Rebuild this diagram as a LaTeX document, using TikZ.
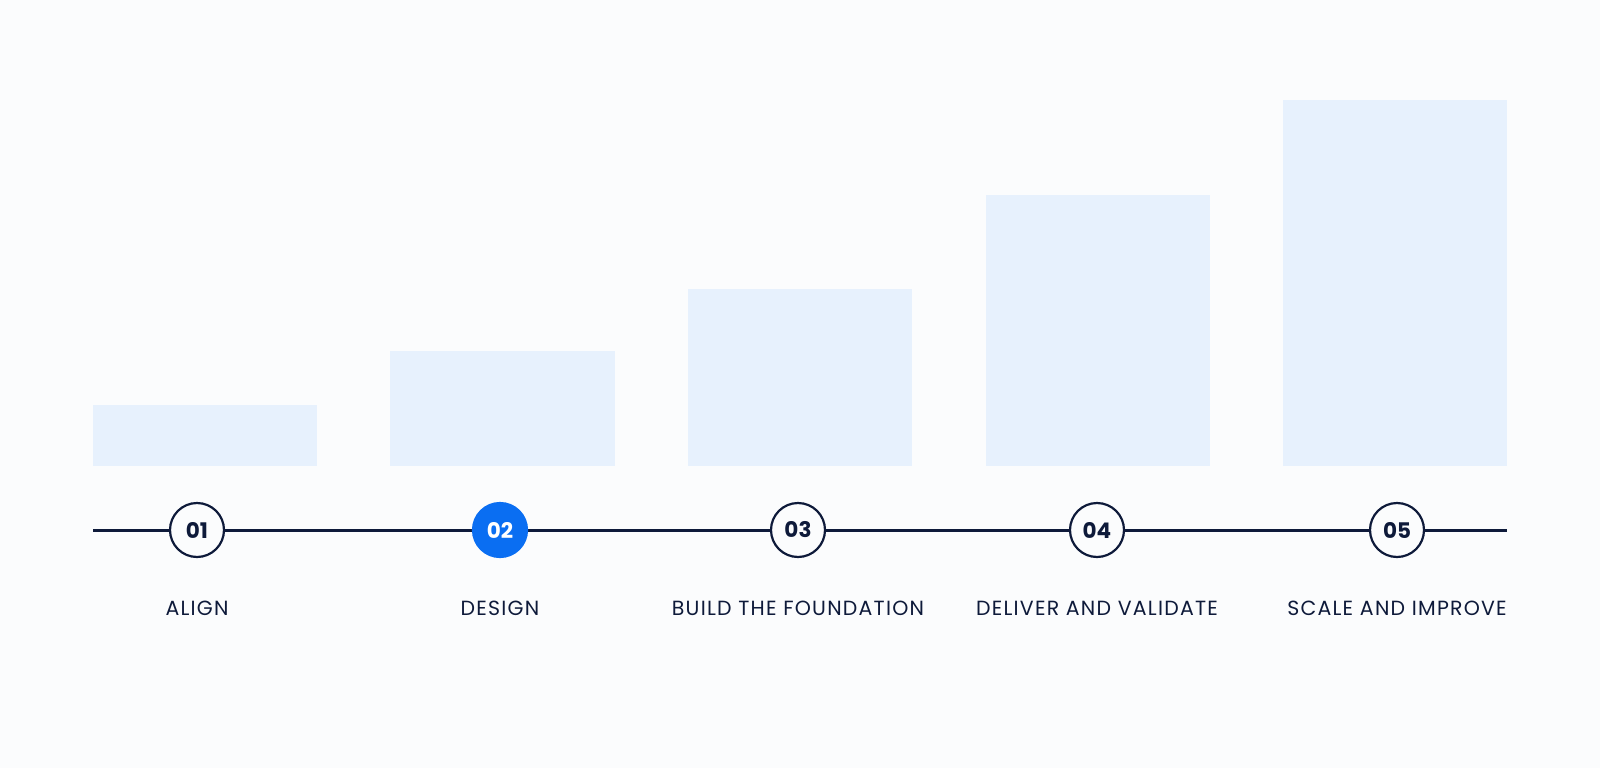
\documentclass[tikz,border=0pt]{standalone}
\usepackage{fontspec}
\setmainfont{Poppins}
\newfontfamily\labelfont[LetterSpace=6]{Poppins}
\definecolor{bg}{HTML}{FBFCFD}
\definecolor{barc}{HTML}{E7F1FD}
\definecolor{navy}{HTML}{0E1A3A}
\definecolor{accent}{HTML}{0A6EF2}
\tikzset{
  bar/.style={fill=barc, draw=none},
  stepcirc/.style={circle, draw=navy, line width=2.2pt, fill=bg, minimum size=54pt, inner sep=0pt, font=\fontsize{21.5}{21.5}\selectfont\bfseries, text=navy},
  stepactive/.style={stepcirc, draw=accent, fill=accent, text=white},
  steplabel/.style={font=\labelfont\fontsize{20.5}{20.5}\selectfont, text=navy, anchor=base},
  axisline/.style={draw=navy, line width=3pt}
}
\begin{document}
\begin{tikzpicture}[x=1pt,y=-1pt]
\fill[bg] (0,0) rectangle (1600,768);
\useasboundingbox (0,0) rectangle (1600,768);
% bars
\fill[bar] (93,405) rectangle (317,466);
\fill[bar] (390,351) rectangle (615,466);
\fill[bar] (688,289) rectangle (912,466);
\fill[bar] (986,195) rectangle (1210,466);
\fill[bar] (1283,100) rectangle (1507,466);
% axis
\coordinate (L) at (93,530);
\coordinate (R) at (1507,530);
\draw[axisline] (L) -- (R);
% circles
\node[stepcirc] (c1) at (197,530) {01};
\node[stepactive] (c2) at (500,530) {02};
\node[stepcirc] (c3) at (798,530) {03};
\node[stepcirc] (c4) at (1097,530) {04};
\node[stepcirc] (c5) at (1397,530) {05};
% labels
\node[steplabel] (l1) at (197,615) {ALIGN};
\node[steplabel] (l2) at (500,615) {DESIGN};
\node[steplabel] (l3) at (798,615) {BUILD THE FOUNDATION};
\node[steplabel] (l4) at (1097,615) {DELIVER AND VALIDATE};
\node[steplabel] (l5) at (1397,615) {SCALE AND IMPROVE};
\end{tikzpicture}
\end{document}
